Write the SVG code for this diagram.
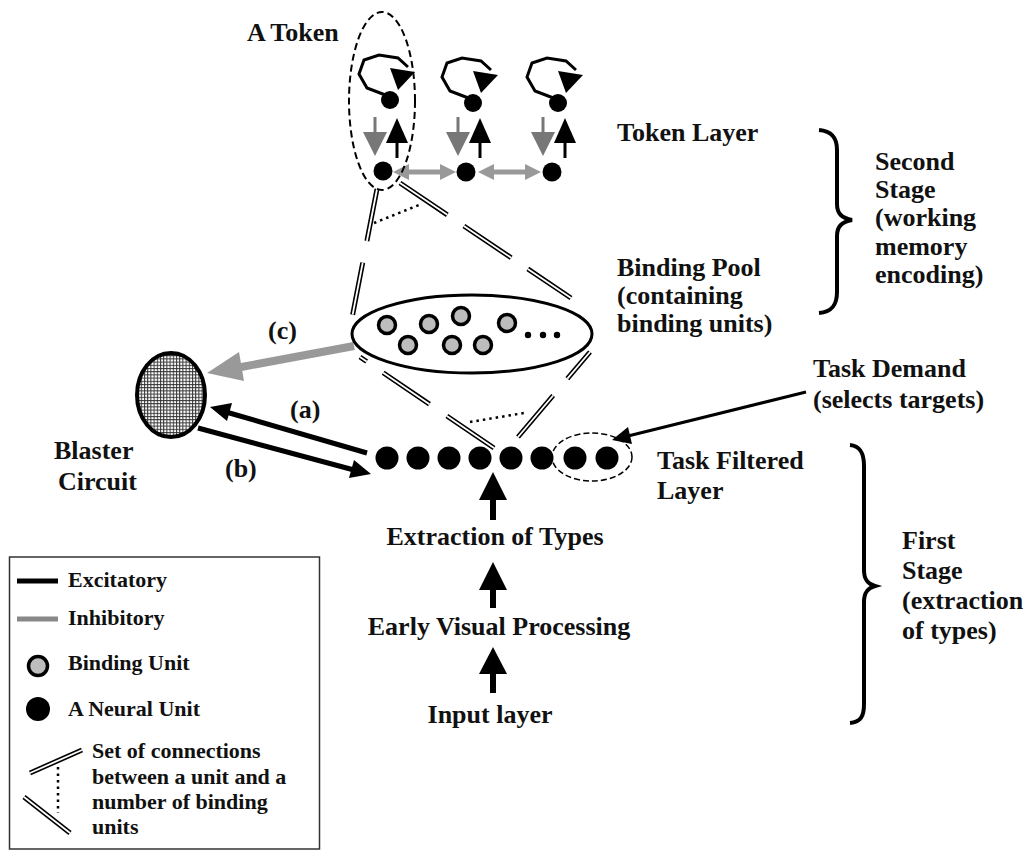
<svg xmlns="http://www.w3.org/2000/svg" width="1029" height="852" viewBox="0 0 1029 852">
  <style>
    text { font-family: "Liberation Serif", "Times New Roman", serif; font-weight: bold; fill: #111; }
    .lbl { font-size: 26px; }
    .leg { font-size: 22px; }
    .unit { fill: #000; }
    .bind { fill: #bdbdbd; stroke: #000; stroke-width: 3.5; }
    .dblo { fill: none; stroke: #000; stroke-width: 5; }
    .dbli { fill: none; stroke: #fff; stroke-width: 1.8; }
    .dots { fill: none; stroke: #000; stroke-width: 2.5; stroke-dasharray: 2.5 4; }
    .exc { stroke: #000; fill: none; }
    .inh { stroke: #999; fill: none; }
    .brace { fill: none; stroke: #000; stroke-width: 4; }
  </style>
  <defs>
    <pattern id="mesh" width="3.2" height="3.2" patternUnits="userSpaceOnUse">
      <rect width="3.2" height="3.2" fill="#fff"/>
      <path d="M0,0.5 H3.2 M0.5,0 V3.2" stroke="#333" stroke-width="1"/>
    </pattern>
  </defs>

  <rect width="1029" height="852" fill="#fff"/>

  <!-- connectors -->
  <g id="connectors">
    <!-- token unit to binding pool (double lines) -->
    <g id="token-to-pool">
      <path class="dblo" d="M377,189 L352,318" stroke-dasharray="53 22"/>
      <path class="dbli" d="M377,189 L352,318" stroke-dasharray="53 22"/>
      <path class="dblo" d="M400,183 L571,298" stroke-dasharray="57 20"/>
      <path class="dbli" d="M400,183 L571,298" stroke-dasharray="57 20"/>
      <path class="dots" d="M374,223 L419,205"/>
    </g>
    <!-- binding pool to task filtered unit (double lines) -->
    <g id="pool-to-layer">
      <path class="dblo" d="M590,352 L518,437" stroke-dasharray="35 22 60"/>
      <path class="dbli" d="M590,352 L518,437" stroke-dasharray="35 22 60"/>
      <path class="dblo" d="M360,357 L494,448" stroke-dasharray="8 20 56 21 62"/>
      <path class="dbli" d="M360,357 L494,448" stroke-dasharray="8 20 56 21 62"/>
      <path class="dots" d="M470,422 L524,413"/>
    </g>

    <!-- (c) inhibitory: binding pool to blaster -->
    <g id="arrow-c">
      <line class="inh" x1="354" y1="346" x2="236" y2="368" stroke-width="8"/>
      <polygon fill="#999" points="207,373 239,352 244,381"/>
    </g>
    <!-- (a) excitatory: filtered layer to blaster -->
    <g id="arrow-a">
      <line class="exc" x1="367" y1="453" x2="226" y2="412" stroke-width="5"/>
      <polygon fill="#000" points="210,407 232,403 227,421"/>
    </g>
    <!-- (b) excitatory: blaster to filtered layer -->
    <g id="arrow-b">
      <line class="exc" x1="198" y1="428" x2="354" y2="470" stroke-width="5"/>
      <polygon fill="#000" points="371,474 349,478 354,460"/>
    </g>
    <!-- task demand pointer -->
    <g id="arrow-task">
      <line class="exc" x1="806" y1="392" x2="628" y2="436" stroke-width="3"/>
      <polygon fill="#000" points="612,440 632,444 628,427"/>
    </g>

    <!-- feed-forward arrows -->
    <g id="ff-arrows" fill="#000">
      <polygon points="493,472 507,500 479,500"/>
      <rect x="490" y="499" width="6" height="21"/>
      <polygon points="493,562 507,590 479,590"/>
      <rect x="490" y="589" width="6" height="19"/>
      <polygon points="493,647 507,674 479,674"/>
      <rect x="490" y="673" width="6" height="20"/>
    </g>

    <!-- token layer internal connections -->
    <g id="token-links">
      <!-- self loops -->
      <g id="loop1">
        <path d="M388,96 L367,88 L359,74 L364,60 L379,55 L398,58 L408,67" fill="none" stroke="#000" stroke-width="3"/>
        <polygon points="390,68 415,72 398,90" fill="#000"/>
      </g>
      <use href="#loop1" x="83" y="3"/>
      <use href="#loop1" x="168" y="3"/>
      <!-- vertical arrows between token rows -->
      <g id="vpair1">
        <line x1="375" y1="117" x2="375" y2="135" stroke="#777" stroke-width="3"/>
        <polygon points="363,132 387,132 375,156" fill="#777"/>
        <line x1="397" y1="142" x2="397" y2="158" stroke="#000" stroke-width="3"/>
        <polygon points="386,143 408,143 397,118" fill="#000"/>
      </g>
      <use href="#vpair1" x="83" y="0"/>
      <use href="#vpair1" x="168" y="0"/>
      <!-- lateral inhibition -->
      <g id="lat1">
        <line x1="405" y1="172" x2="443" y2="172" stroke="#999" stroke-width="5"/>
        <polygon points="393,172 409,164 409,180" fill="#999"/>
        <polygon points="456,172 440,164 440,180" fill="#999"/>
      </g>
      <use href="#lat1" x="85" y="0"/>
    </g>
  </g>

  <!-- token layer -->
  <g id="token-layer">
    <circle class="unit" cx="390" cy="100" r="9"/>
    <circle class="unit" cx="473" cy="103" r="9"/>
    <circle class="unit" cx="558" cy="103" r="9"/>
    <circle class="unit" cx="383" cy="171" r="9.5"/>
    <circle class="unit" cx="466" cy="172" r="9.5"/>
    <circle class="unit" cx="552" cy="172" r="9.5"/>
  </g>
  <g id="a-token">
    <ellipse cx="382" cy="101" rx="33" ry="89" fill="none" stroke="#000" stroke-width="2" stroke-dasharray="7 4"/>
    <text class="lbl" x="247" y="41">A Token</text>
  </g>

  <!-- binding pool -->
  <g id="binding-pool">
    <ellipse cx="472" cy="334" rx="120" ry="39" fill="#fff" stroke="#000" stroke-width="3"/>
    <circle class="bind" cx="387" cy="325" r="8.5"/>
    <circle class="bind" cx="408" cy="345" r="8.5"/>
    <circle class="bind" cx="429" cy="324" r="8.5"/>
    <circle class="bind" cx="452" cy="345" r="8.5"/>
    <circle class="bind" cx="461" cy="316" r="8.5"/>
    <circle class="bind" cx="483" cy="345" r="8.5"/>
    <circle class="bind" cx="507" cy="323" r="8.5"/>
    <circle class="unit" cx="528" cy="335" r="3.2"/>
    <circle class="unit" cx="543" cy="335" r="3.2"/>
    <circle class="unit" cx="557" cy="335" r="3.2"/>
  </g>

  <!-- blaster circuit -->
  <g id="blaster">
    <ellipse cx="171" cy="395" rx="34" ry="42" fill="url(#mesh)" stroke="#000" stroke-width="4"/>
    <text class="lbl" x="54" y="459">Blaster</text>
    <text class="lbl" x="58" y="490">Circuit</text>
  </g>
  <text class="lbl" x="268" y="339">(c)</text>
  <text class="lbl" x="290" y="418">(a)</text>
  <text class="lbl" x="225" y="477">(b)</text>

  <!-- task filtered layer -->
  <g id="task-filtered">
    <circle class="unit" cx="387" cy="458" r="11.5"/>
    <circle class="unit" cx="418" cy="458" r="11.5"/>
    <circle class="unit" cx="449" cy="458" r="11.5"/>
    <circle class="unit" cx="480" cy="458" r="11.5"/>
    <circle class="unit" cx="511" cy="458" r="11.5"/>
    <circle class="unit" cx="542" cy="458" r="11.5"/>
    <circle class="unit" cx="575" cy="458" r="11.5"/>
    <circle class="unit" cx="607" cy="458" r="11.5"/>
    <ellipse cx="592" cy="457" rx="40" ry="24" fill="none" stroke="#000" stroke-width="1.5" stroke-dasharray="6 3"/>
    <text class="lbl" x="657" y="469">Task Filtered</text>
    <text class="lbl" x="657" y="499">Layer</text>
  </g>

  <g id="task-demand">
    <text class="lbl" x="813" y="377">Task Demand</text>
    <text class="lbl" x="813" y="408">(selects targets)</text>
  </g>

  <!-- processing stages -->
  <g id="extraction"><text class="lbl" x="495" y="545" text-anchor="middle">Extraction of Types</text></g>
  <g id="early-visual"><text class="lbl" x="499" y="635" text-anchor="middle">Early Visual Processing</text></g>
  <g id="input-layer"><text class="lbl" x="490" y="723" text-anchor="middle">Input layer</text></g>

  <!-- layer labels -->
  <text class="lbl" x="617" y="141">Token Layer</text>
  <text class="lbl" x="617" y="276">Binding Pool</text>
  <text class="lbl" x="617" y="304">(containing</text>
  <text class="lbl" x="617" y="332">binding units)</text>

  <!-- stage braces -->
  <g id="second-stage">
    <path class="brace" d="M819,130 C832,131 837,138 837,150 L837,204 C837,214 842,218 852,220 C842,222 837,226 837,236 L837,292 C837,305 832,312 819,313"/>
    <text class="lbl" x="875" y="170">Second</text>
    <text class="lbl" x="875" y="198">Stage</text>
    <text class="lbl" x="875" y="226">(working</text>
    <text class="lbl" x="875" y="255">memory</text>
    <text class="lbl" x="875" y="283">encoding)</text>
  </g>
  <g id="first-stage">
    <path class="brace" d="M850,445 C861,446 864,454 864,466 L864,570 C864,580 868,584 875,586 C868,588 864,592 864,602 L864,704 C864,716 861,722 850,723"/>
    <text class="lbl" x="902" y="549">First</text>
    <text class="lbl" x="902" y="579">Stage</text>
    <text class="lbl" x="902" y="609">(extraction</text>
    <text class="lbl" x="902" y="639">of types)</text>
  </g>

  <!-- legend -->
  <g id="legend">
    <rect x="9.5" y="557" width="310" height="292" fill="none" stroke="#333" stroke-width="1.5"/>
    <line x1="17" y1="581" x2="58" y2="581" stroke="#000" stroke-width="5"/>
    <text class="leg" x="68" y="587">Excitatory</text>
    <line x1="17" y1="619" x2="58" y2="619" stroke="#888" stroke-width="5"/>
    <text class="leg" x="68" y="625">Inhibitory</text>
    <circle class="bind" cx="38" cy="666" r="9.5"/>
    <text class="leg" x="68" y="670">Binding Unit</text>
    <circle class="unit" cx="38" cy="709" r="12"/>
    <text class="leg" x="68" y="716">A Neural Unit</text>
    <path class="dblo" d="M30,773 L82,750"/>
    <path class="dbli" d="M30,773 L82,750"/>
    <path class="dblo" d="M24,797 L70,833"/>
    <path class="dbli" d="M24,797 L70,833"/>
    <path class="dots" d="M58,767 L58,813"/>
    <text class="leg" x="92" y="758">Set of connections</text>
    <text class="leg" x="92" y="784">between a unit and a</text>
    <text class="leg" x="92" y="809">number of binding</text>
    <text class="leg" x="92" y="834">units</text>
  </g>
</svg>
